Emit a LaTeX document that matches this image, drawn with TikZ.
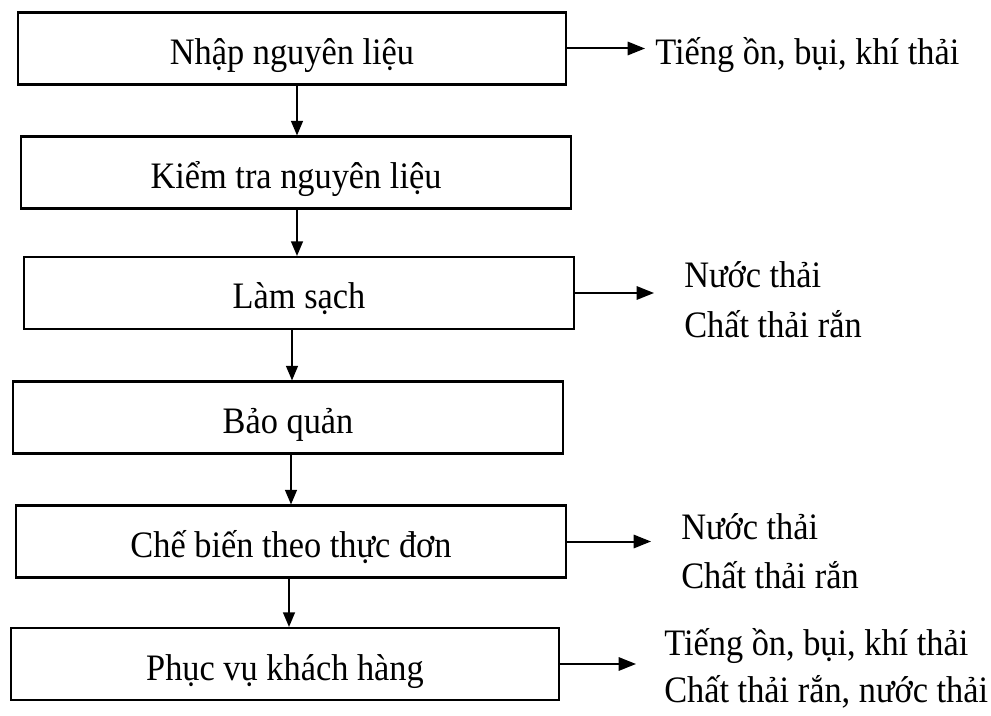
\documentclass[tikz,border=0pt]{standalone}
\usepackage{fontspec}
\setmainfont{Liberation Serif}[FakeStretch=0.92]
\usetikzlibrary{arrows.meta}
\begin{document}
\begin{tikzpicture}[x=0.75pt,y=-0.75pt,
  stepbox/.style={draw=black,line width=1.6pt,inner sep=0pt,minimum height=54pt,
    font=\fontsize{28}{32}\selectfont,text height=27pt,text depth=3pt},
  lbl/.style={anchor=base west,inner sep=0pt,font=\fontsize{28}{32}\selectfont},
  varr/.style={line width=1.2pt,-{Triangle[length=11pt,width=9pt]}},
  harr/.style={line width=1.5pt,-{Triangle[length=13pt,width=10pt]}}]
\useasboundingbox (0,0) rectangle (991,716);
% boxes
\node[stepbox,minimum width=411pt] (b1) at (292,48.5) {Nhập nguyên liệu};
\node[stepbox,minimum width=412pt] (b2) at (296,172.5) {Kiểm tra nguyên liệu};
\node[stepbox,minimum width=412pt] (b3) at (299,293) {Làm sạch};
\node[stepbox,minimum width=412pt] (b4) at (288,417.5) {Bảo quản};
\node[stepbox,minimum width=412pt] (b5) at (291,541.5) {Chế biến theo thực đơn};
\node[stepbox,minimum width=411pt] (b6) at (285,664) {Phục vụ khách hàng};
% x positions of vertical connectors and ends of side arrows
\coordinate (v1) at (297,0);
\coordinate (v2) at (297,0);
\coordinate (v3) at (292,0);
\coordinate (v4) at (291,0);
\coordinate (v5) at (289,0);
\coordinate (e1) at (645,0);
\coordinate (e3) at (654,0);
\coordinate (e5) at (651,0);
\coordinate (e6) at (636,0);
% vertical connectors
\draw[varr] (b1.south -| v1) -- (b2.north -| v1);
\draw[varr] (b2.south -| v2) -- (b3.north -| v2);
\draw[varr] (b3.south -| v3) -- (b4.north -| v3);
\draw[varr] (b4.south -| v4) -- (b5.north -| v4);
\draw[varr] (b5.south -| v5) -- (b6.north -| v5);
% side arrows
\draw[harr] (b1.east) -- (b1.east -| e1);
\draw[harr] (b3.east) -- (b3.east -| e3);
\draw[harr] (b5.east) -- (b5.east -| e5);
\draw[harr] (b6.east) -- (b6.east -| e6);
% labels
\node[lbl] (l1) at (655,65) {Tiếng ồn, bụi, khí thải};
\node[lbl] (l3a) at (684,288) {Nước thải};
\node[lbl] (l3b) at (684,337) {Chất thải rắn};
\node[lbl] (l5a) at (681,539) {Nước thải};
\node[lbl] (l5b) at (681,588) {Chất thải rắn};
\node[lbl] (l6a) at (664,655) {Tiếng ồn, bụi, khí thải};
\node[lbl] (l6b) at (664,702) {Chất thải rắn, nước thải};
\end{tikzpicture}
\end{document}
